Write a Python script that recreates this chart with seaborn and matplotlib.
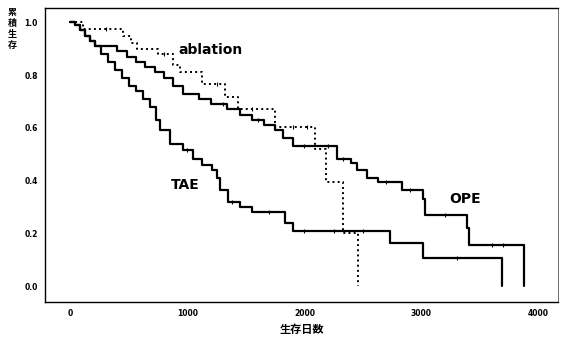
import numpy as np
import pandas as pd
import matplotlib
matplotlib.use("Agg")
import matplotlib.pyplot as plt
import seaborn as sns

# ---- data (step-change times in days, survival after the step) ----
tae_days = [0, 40, 80, 120, 170, 210, 260, 320, 380, 440, 500, 560, 620, 680, 730, 765,
            850, 960, 1050, 1120, 1210, 1250, 1280, 1345, 1450, 1550, 1830, 1900, 2730,
            3010, 3690]
tae_surv = [1.0, 0.99, 0.97, 0.95, 0.93, 0.91, 0.88, 0.85, 0.82, 0.79, 0.76, 0.74, 0.71,
            0.68, 0.63, 0.59, 0.54, 0.515, 0.48, 0.46, 0.44, 0.41, 0.365, 0.32, 0.30, 0.28,
            0.24, 0.21, 0.163, 0.105, 0.0]

ope_days = [0, 40, 80, 120, 170, 210, 400, 480, 560, 640, 720, 800, 880, 960, 1100, 1200,
            1340, 1450, 1550, 1650, 1750, 1820, 1900, 2280, 2400, 2450, 2530, 2630, 2830,
            3010, 3030, 3390, 3410, 3880]
ope_surv = [1.0, 0.99, 0.97, 0.95, 0.93, 0.91, 0.89, 0.87, 0.85, 0.83, 0.81, 0.79, 0.76,
            0.73, 0.71, 0.69, 0.67, 0.65, 0.63, 0.61, 0.59, 0.56, 0.53, 0.48, 0.465, 0.44,
            0.41, 0.395, 0.365, 0.33, 0.27, 0.22, 0.155, 0.0]

abl_days = [0, 110, 450, 520, 570, 750, 875, 935, 1125, 1320, 1430, 1750, 2090, 2180,
            2330, 2460]
abl_surv = [1.0, 0.975, 0.95, 0.92, 0.90, 0.88, 0.84, 0.81, 0.765, 0.715, 0.67, 0.605,
            0.52, 0.395, 0.20, 0.0]

# censored observations (days)
tae_cens = [1000, 1380, 1700, 2000, 2250, 2500, 3300]
ope_cens = [1300, 1600, 2000, 2200, 2330, 2700, 2900, 3200, 3600, 3700]
abl_cens = [300, 800, 1250, 1550, 1900, 2020]

x_ticks = [0, 1000, 2000, 3000, 4000]
y_ticks = [0.0, 0.2, 0.4, 0.6, 0.8, 1.0]
y_ticklabels = ["0.0", "0.2", "0.4", "0.6", "0.8", "1.0"]

groups = [("TAE", tae_days, tae_surv, tae_cens, "-", 1.6),
          ("OPE", ope_days, ope_surv, ope_cens, "-", 1.6),
          ("ablation", abl_days, abl_surv, abl_cens, ":", 1.4)]

sns.set_theme(style="white")
plt.rcParams["font.family"] = ["DejaVu Sans", "Noto Sans CJK JP"]
plt.rcParams["text.color"] = "black"
plt.rcParams["xtick.color"] = "black"
plt.rcParams["ytick.color"] = "black"

fig = plt.figure(figsize=(5.62, 3.41), dpi=100)
ax = fig.add_axes([0.080, 0.114, 0.913, 0.863])

for name, d, s, cens, ls, lw in groups:
    df = pd.DataFrame({"day": d, "surv": s})
    sns.lineplot(data=df, x="day", y="surv", ax=ax, color="black", linestyle=ls,
                 linewidth=lw, drawstyle="steps-post", estimator=None, sort=False)
    cd = np.array(cens)
    idx = np.searchsorted(np.array(d), cd, side="right") - 1
    cs = np.array(s)[idx]
    sns.scatterplot(x=cd, y=cs, ax=ax, marker="|", s=9, color="black", linewidth=0.8)

ax.text(1200, 0.895, "ablation", fontsize=10, fontweight="bold", ha="center", va="center",
        color="black")
ax.text(980, 0.385, "TAE", fontsize=10, fontweight="bold", ha="center", va="center",
        color="black")
ax.text(3370, 0.33, "OPE", fontsize=10, fontweight="bold", ha="center", va="center",
        color="black")

ax.set_xlim(-218, 4167)
ax.set_ylim(-0.061, 1.055)
ax.set_xticks(x_ticks)
ax.set_xticklabels([str(t) for t in x_ticks], fontsize=5.5, fontweight="bold")
ax.set_yticks(y_ticks)
ax.set_yticklabels(y_ticklabels, fontsize=5.5, fontweight="bold")
ax.tick_params(axis="both", direction="out", length=3, width=0.8, color="black", pad=2,
               labelcolor="black")
ax.set_xlabel("")
ax.set_ylabel("")
for sp in ax.spines.values():
    sp.set_color("black")
    sp.set_linewidth(1.0)
ax.spines["right"].set_linewidth(0.4)

fig.text(0.537, 0.035, "生存日数", fontsize=8, fontweight="bold", ha="center", va="center",
         color="black", family=["Noto Sans CJK JP", "DejaVu Sans"])
fig.text(0.022, 0.915, "累\n積\n生\n存", fontsize=6.5, fontweight="bold", ha="center",
         va="center", linespacing=1.25, color="black",
         family=["Noto Sans CJK JP", "DejaVu Sans"])

fig.savefig("out.png", dpi=100)
